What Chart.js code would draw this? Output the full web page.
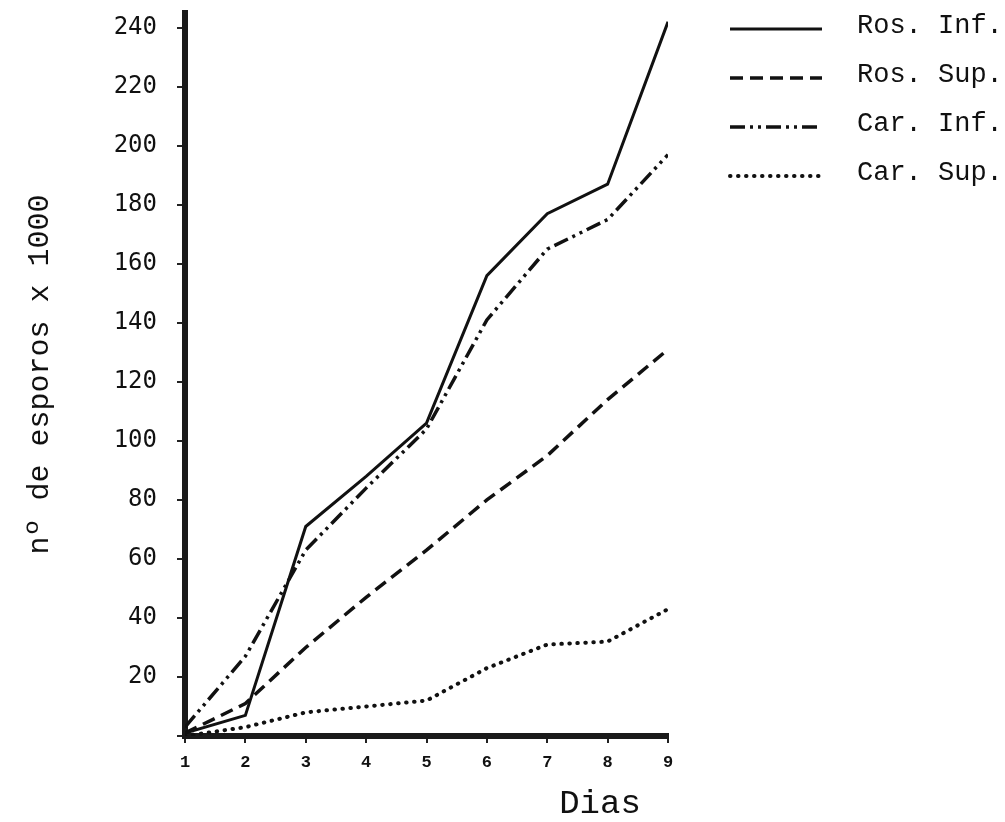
<!DOCTYPE html>
<html>
<head>
<meta charset="utf-8">
<script src="https://cdn.jsdelivr.net/npm/chart.js@4/dist/chart.umd.min.js"></script>
<style>
body { margin: 0; background: #fff; }
#wrap { width: 1005px; height: 822px; }
</style>
</head>
<body>
<div id="wrap"><canvas id="chart"></canvas></div>
<script>
// data (spores x 1000 per day)
var days = [1, 2, 3, 4, 5, 6, 7, 8, 9];
var rosInf = [1, 7, 71, 88, 106, 156, 177, 187, 242];
var rosSup = [1, 11, 30, 47, 63, 80, 95, 114, 131];
var carInf = [3, 27, 63, 84, 104, 141, 165, 175, 197];
var carSup = [0, 3, 8, 10, 12, 23, 31, 32, 43];
var seriesNames = ["Ros. Inf.", "Ros. Sup.", "Car. Inf.", "Car. Sup."];
var yTitle = "nº de esporos x 1000";
var xTitle = "Dias";

var ink = '#111';
var monoFont = '"Liberation Mono", "DejaVu Sans Mono", monospace';

function points(values) {
    return values.map(function(v, i) { return {x: days[i], y: v}; });
}

// legend + "Dias" drawn by hand, to sit where the original has them
var sideLegend = {
    id: 'sideLegend',
    afterDraw: function(chart) {
        var ctx = chart.ctx;
        ctx.save();
        chart.data.datasets.forEach(function(ds, i) {
            var y = 26 + i * 49;
            ctx.beginPath();
            ctx.setLineDash(ds.borderDash);
            ctx.lineCap = ds.borderCapStyle;
            ctx.lineWidth = ds.borderWidth;
            ctx.strokeStyle = ds.borderColor;
            ctx.moveTo(730, y + 3);
            ctx.lineTo(822, y + 3);
            ctx.stroke();
            ctx.setLineDash([]);
            ctx.fillStyle = ink;
            ctx.font = '27px ' + monoFont;
            ctx.textBaseline = 'middle';
            ctx.textAlign = 'left';
            ctx.fillText(ds.label, 857, y);
        });
        ctx.font = '34px ' + monoFont;
        ctx.textAlign = 'center';
        ctx.textBaseline = 'middle';
        ctx.fillStyle = ink;
        ctx.fillText(xTitle, 600, 804);
        ctx.restore();
    }
};

// keep the plot area where the paper has it
function noPad(s) {
    s.paddingTop = 0;
    s.paddingBottom = 0;
    s.paddingLeft = 0;
    s.paddingRight = 0;
}

var ctx = document.getElementById('chart');
var chart = new Chart(ctx, {
    type: 'line',
    data: {
        datasets: [
            {
                label: seriesNames[0],
                data: points(rosInf),
                borderColor: ink,
                borderWidth: 3,
                borderDash: [],
                borderCapStyle: 'butt',
                pointRadius: 0,
                tension: 0
            },
            {
                label: seriesNames[1],
                data: points(rosSup),
                borderColor: ink,
                borderWidth: 3.5,
                borderDash: [13, 7],
                borderCapStyle: 'butt',
                pointRadius: 0,
                tension: 0
            },
            {
                label: seriesNames[2],
                data: points(carInf),
                borderColor: ink,
                borderWidth: 3.5,
                borderDash: [15, 5, 3, 5, 3, 5],
                borderCapStyle: 'butt',
                pointRadius: 0,
                tension: 0
            },
            {
                label: seriesNames[3],
                data: points(carSup),
                borderColor: ink,
                borderWidth: 4,
                borderDash: [0.5, 7.5],
                borderCapStyle: 'round',
                pointRadius: 0,
                tension: 0
            }
        ]
    },
    options: {
        responsive: true,
        maintainAspectRatio: false,
        animation: false,
        layout: { padding: { top: 13, right: 337, bottom: 0, left: 0 } },
        plugins: {
            legend: { display: false },
            tooltip: { enabled: false }
        },
        scales: {
            x: {
                type: 'linear',
                min: 1,
                max: 9,
                afterFit: function(s) { s.height = 86; noPad(s); },
                border: { display: true, color: '#1a1a1a', width: 6 },
                grid: { display: true, drawOnChartArea: false, drawTicks: true, tickLength: 7, color: '#222', lineWidth: 2 },
                ticks: {
                    stepSize: 1,
                    color: ink,
                    padding: 10,
                    font: { family: monoFont, size: 17, weight: 'bold' }
                }
            },
            y: {
                min: 0,
                max: 245,
                afterFit: function(s) { s.width = 185; noPad(s); },
                border: { display: true, color: '#1a1a1a', width: 6 },
                grid: { display: true, drawOnChartArea: false, drawTicks: true, tickLength: 8, color: '#222', lineWidth: 2 },
                ticks: {
                    stepSize: 20,
                    includeBounds: false,
                    color: ink,
                    padding: 20,
                    font: { family: '"DejaVu Sans Mono", monospace', size: 24 },
                    callback: function(v) { return v === 0 ? '' : v; }
                },
                title: {
                    display: true,
                    text: yTitle,
                    color: ink,
                    padding: { top: 22, bottom: 0 },
                    font: { family: monoFont, size: 30 }
                }
            }
        }
    },
    plugins: [sideLegend]
});
</script>
</body>
</html>
